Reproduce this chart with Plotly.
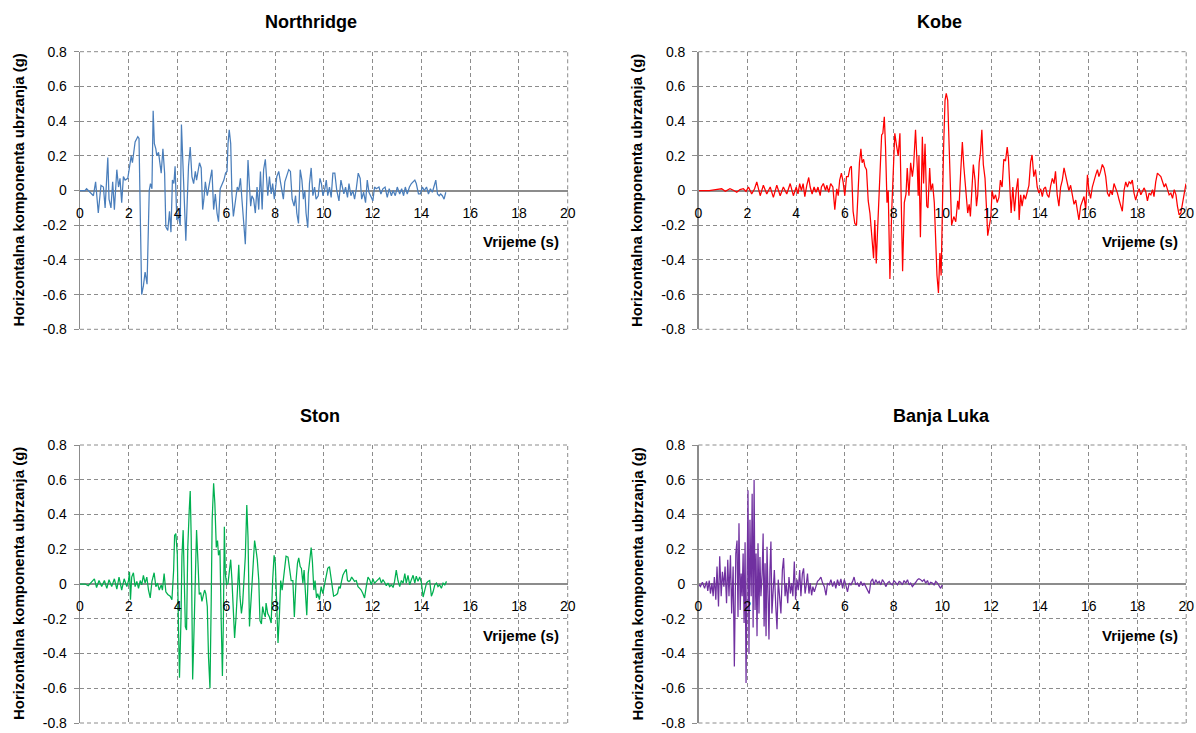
import plotly.graph_objects as go

# ---------------- data ----------------
northridge_t = [0, 0.21, 0.27, 0.41, 0.55, 0.64, 0.75, 0.86, 0.96, 1.03, 1.14, 1.19, 1.27, 1.34, 1.41, 1.51,
                1.58, 1.64, 1.71, 1.78, 1.85, 1.96, 2.03, 2.10, 2.15, 2.21, 2.26, 2.37, 2.42, 2.48, 2.53, 2.60,
                2.67, 2.75, 2.84, 2.89, 2.95, 3.00, 3.05, 3.11, 3.15, 3.22, 3.29, 3.33, 3.40, 3.47, 3.52, 3.60,
                3.67, 3.73, 3.79, 3.85, 3.90, 3.97, 4.04, 4.11, 4.16, 4.22, 4.27, 4.34, 4.40, 4.45, 4.52, 4.59,
                4.66, 4.73, 4.78, 4.84, 4.90, 4.97, 5.03, 5.08, 5.14, 5.22, 5.27, 5.34, 5.41, 5.48, 5.55, 5.62,
                5.68, 5.75, 5.82, 5.90, 5.97, 6.03, 6.07, 6.12, 6.18, 6.23, 6.29, 6.34, 6.40, 6.45, 6.51, 6.58,
                6.64, 6.71, 6.78, 6.84, 6.89, 6.95, 7.00, 7.05, 7.12, 7.19, 7.26, 7.33, 7.40, 7.47, 7.53,
                7.60, 7.70, 7.77, 7.84, 7.90, 7.97, 8.07, 8.15, 8.22, 8.29, 8.34, 8.40, 8.48, 8.56, 8.63, 8.70,
                8.78, 8.84, 8.89, 8.96, 9.03, 9.10, 9.16, 9.22, 9.27, 9.34, 9.41, 9.48, 9.55, 9.62, 9.68, 9.77,
                9.84, 9.90, 9.96, 10.04, 10.10, 10.16, 10.23, 10.30, 10.37, 10.45, 10.53, 10.62, 10.70, 10.75,
                10.82, 10.89, 10.97, 11.03, 11.11, 11.19, 11.26, 11.33, 11.41, 11.49, 11.55, 11.63, 11.71, 11.78,
                11.85, 11.95, 12.01, 12.08, 12.15, 12.26, 12.34, 12.42, 12.51, 12.60, 12.68, 12.77, 12.84, 12.93,
                13.01, 13.11, 13.19, 13.27, 13.34, 13.42, 13.51, 13.59, 13.66, 13.73, 13.79, 13.88, 13.96, 14.04,
                14.12, 14.21, 14.29, 14.37, 14.45, 14.53, 14.59, 14.66, 14.73, 14.79, 14.86, 14.93, 15.00]
northridge_a = [0, 0, 0.01, -0.01, -0.03, 0.05, -0.13, 0.03, 0.02, -0.10, 0.19, -0.05, -0.10, 0.05, -0.11, 0.12,
                0.02, 0.07, -0.07, 0.08, 0.06, 0.07, 0.13, 0.20, 0.16, 0.25, 0.28, 0.31, 0.30, -0.20, -0.60, -0.55,
                -0.47, -0.54, 0.00, 0.04, 0.01, 0.46, 0.27, 0.24, 0.20, 0.22, 0.14, 0.10, 0.24, 0.10, -0.21, -0.23,
                -0.12, -0.24, 0.06, 0.04, 0.14, -0.17, -0.15, -0.20, 0.38, 0.17, -0.11, -0.29, -0.05, 0.14, 0.25, 0.08,
                0.04, 0.11, 0.06, 0.10, 0.16, 0.13, -0.11, -0.05, 0.05, -0.03, 0.01, 0.08, 0.12, -0.11, -0.02, -0.13,
                -0.18, 0.01, 0.03, 0.06, 0.10, 0.11, 0.27, 0.35, 0.27, -0.02, -0.15, -0.09, -0.01, 0.02, 0.00, 0.07,
                -0.05, -0.19, -0.31, -0.05, 0.175, 0.02, -0.09, -0.03, -0.05, -0.13, 0.02, -0.11, 0.11, -0.11, 0.12,
                0.18, -0.03, 0.08, -0.02, 0.04, -0.05, 0.08, 0.11, 0.05, -0.02, -0.05, 0.05, 0.08, 0.12, 0.11, -0.05,
                -0.09, -0.03, -0.13, -0.19, 0.12, 0.06, -0.05, 0.00, -0.13, -0.215, 0.04, 0.13, -0.03, 0.02, -0.05, -0.03,
                0.07, 0.04, -0.03, 0.01, 0.06, -0.03, 0.02, -0.04, 0.10, 0.10, 0.00, -0.06, 0.06, 0.03,
                -0.02, 0.02, -0.04, 0.04, -0.03, 0.00, -0.05, 0.01, 0.10, 0.07, -0.05, -0.01, -0.07, 0.06,
                -0.01, -0.04, -0.06, 0.02, 0.01, 0.02, -0.02, 0.01, 0.02, -0.04, 0.01, -0.03, 0.00, -0.03,
                0.02, -0.02, 0.01, -0.03, 0.02, -0.02, 0.02, 0.04, 0.05, 0.06, 0.04, -0.02, -0.02, 0.02,
                0.00, 0.02, -0.02, 0.01, -0.01, 0.03, 0.06, -0.02, -0.03, -0.02, -0.03, -0.05, -0.01]

kobe_t = [0, 0.44, 0.70, 0.95, 1.10, 1.29, 1.45, 1.57, 1.70, 1.84, 1.95, 2.05, 2.18, 2.30, 2.39, 2.53, 2.66,
          2.80, 2.94, 3.07, 3.21, 3.35, 3.48, 3.62, 3.76, 3.89,
          4.01, 4.08, 4.15, 4.22, 4.29, 4.36, 4.44, 4.52, 4.58, 4.66, 4.74, 4.82, 4.90, 4.99, 5.04, 5.12,
          5.21, 5.26, 5.34, 5.42, 5.51, 5.59, 5.67, 5.73, 5.79, 5.86, 5.93, 6.00, 6.07, 6.14, 6.21, 6.27,
          6.34, 6.41, 6.48, 6.55, 6.60, 6.66, 6.71, 6.77, 6.82, 6.89, 6.96, 7.03, 7.10, 7.14, 7.18, 7.23,
          7.29, 7.34, 7.40, 7.45, 7.51, 7.56, 7.62, 7.67, 7.73, 7.78, 7.85, 7.92, 7.99, 8.05, 8.12, 8.19,
          8.26, 8.30, 8.37, 8.44, 8.51, 8.56, 8.63, 8.70, 8.77, 8.82, 8.90, 8.97, 9.01, 9.04, 9.10, 9.18,
          9.23, 9.29, 9.36, 9.41, 9.48, 9.53, 9.60, 9.67, 9.73, 9.78, 9.84, 9.90, 9.95, 10.00, 10.05, 10.11,
          10.16, 10.22, 10.27, 10.33, 10.38, 10.47, 10.55, 10.63, 10.68, 10.75, 10.82, 10.88, 10.96, 11.04,
          11.10, 11.15, 11.21, 11.27, 11.34, 11.40, 11.45, 11.51, 11.56, 11.62, 11.68, 11.75, 11.82, 11.86,
          11.92, 11.99, 12.04, 12.11, 12.18, 12.25, 12.32, 12.38, 12.45, 12.52, 12.59, 12.66, 12.71, 12.77,
          12.82, 12.89, 12.96, 13.03, 13.10, 13.15, 13.21, 13.27, 13.34, 13.41, 13.48, 13.55, 13.62, 13.68,
          13.75, 13.82, 13.89, 13.96, 14.03, 14.10, 14.16, 14.23, 14.30, 14.37, 14.44, 14.51, 14.58, 14.64,
          14.71, 14.78, 14.85, 14.92, 14.99, 15.05, 15.12, 15.19, 15.26, 15.33, 15.40, 15.47, 15.53, 15.60,
          15.67, 15.74, 15.81, 15.88, 15.95, 16.01, 16.08, 16.15, 16.22, 16.29, 16.36, 16.42, 16.49, 16.56,
          16.63, 16.70, 16.77, 16.84, 16.90, 16.97, 17.04, 17.11, 17.18, 17.25, 17.32, 17.38, 17.45, 17.52,
          17.59, 17.66, 17.73, 17.79, 17.86, 17.93, 18.00, 18.07, 18.14, 18.21, 18.27, 18.34, 18.41, 18.48,
          18.55, 18.62, 18.68, 18.75, 18.82, 18.89, 18.96, 19.03, 19.10, 19.16, 19.23, 19.30, 19.37, 19.44,
          19.51, 19.58, 19.64, 19.71, 19.78, 19.85, 19.92, 19.99]
kobe_a = [0, 0, 0.005, 0.01, -0.005, 0.01, 0.0, -0.01, 0.005, 0.01, -0.005, 0.02, -0.02, 0.01, 0.05, -0.03, 0.03,
          -0.02, 0.02, -0.04, 0.03, -0.03, 0.02, -0.02, 0.04, -0.03,
          0.02, -0.02, 0.04, 0.00, 0.04, -0.035, 0.03, 0.075, 0.02, -0.02, 0.02, -0.01, 0.02, -0.03, 0.02, 0.04,
          0.00, 0.03, -0.01, 0.04, 0.02, -0.11, 0.01, -0.03, 0.06, 0.10, 0.05, -0.03, 0.08, 0.08, 0.13, 0.14,
          -0.12, -0.19, -0.20, 0.00, 0.16, 0.24, 0.16, 0.18, 0.14, 0.12, -0.06, -0.13, -0.27, -0.30, -0.39, -0.17,
          -0.42, -0.24, -0.03, 0.18, 0.32, 0.33, 0.425, 0.25, -0.07, 0.00, -0.51, -0.13, 0.16, 0.33, 0.26, 0.20,
          0.33, 0.06, -0.465, -0.07, -0.02, 0.13, -0.03, 0.16, 0.08, 0.14, 0.35, 0.14, -0.03, 0.20, -0.27, 0.31,
          0.04, 0.27, -0.09, -0.10, 0.13, 0.00, 0.04, -0.07, -0.32, -0.49, -0.59, -0.36, -0.49, -0.03, 0.24, 0.52,
          0.56, 0.52, 0.25, -0.03, -0.20, -0.15, -0.18, -0.06, -0.11, 0.10, 0.28, 0.14, -0.02, -0.13,
          -0.08, -0.15, 0.00, 0.15, 0.06, -0.09, -0.025, 0.16, 0.215, 0.35, 0.15, 0.07, -0.13, -0.26,
          -0.21, -0.15, 0.00, -0.05, -0.025, -0.07, -0.04, 0.06, 0.02, 0.18, 0.17, 0.25, 0.185, -0.025,
          -0.13, 0.02, -0.12, 0.00, 0.07, -0.17, -0.025, -0.09, -0.025, -0.05, -0.01, 0.03, 0.165, 0.205,
          0.08, 0.12, 0.02, -0.015, 0.01, -0.035, 0.01, 0.02, -0.025, -0.04, 0.025, 0.07, 0.04, 0.11,
          -0.025, -0.09, 0.02, 0.06, 0.13, 0.09, 0.04, 0.00, 0.03, -0.025, -0.08, -0.055, -0.11, -0.17,
          -0.09, -0.055, -0.035, -0.11, 0.09, 0.00, -0.045, 0.02, 0.06, 0.09, 0.12, 0.08, 0.11, 0.15,
          0.13, 0.08, -0.015, -0.035, 0.00, -0.025, 0.04, 0.015, -0.015, -0.055, -0.10, -0.12, 0.00, 0.05,
          0.02, 0.05, 0.04, 0.06, -0.015, -0.055, -0.015, 0.01, -0.025, -0.005, 0.015, -0.005, -0.06, -0.015,
          -0.025, 0.005, -0.035, 0.05, 0.10, 0.09, 0.08, 0.05, 0.02, 0.04, 0.005, -0.025, -0.015, -0.045,
          0.005, -0.025, -0.09, -0.14, -0.13, -0.07, -0.025, 0.04]

ston_t = [0, 0.21, 0.34, 0.48, 0.59, 0.68, 0.78, 0.89, 1.00, 1.10, 1.19, 1.30, 1.41, 1.51, 1.60, 1.71, 1.81,
          1.92, 1.99, 2.03, 2.07, 2.12, 2.19, 2.26, 2.33, 2.40, 2.47, 2.53, 2.60, 2.67, 2.74, 2.81, 2.88,
          2.95, 3.04, 3.11, 3.18, 3.25, 3.33, 3.38, 3.45, 3.52, 3.60, 3.70, 3.77, 3.84, 3.88, 3.93, 3.99,
          4.04, 4.08, 4.14, 4.18, 4.23, 4.27, 4.32, 4.37, 4.42, 4.48, 4.52, 4.56, 4.62, 4.67, 4.73, 4.78,
          4.84, 4.89, 4.95, 5.00, 5.05, 5.11, 5.16, 5.22, 5.27, 5.33, 5.38, 5.42, 5.48, 5.53, 5.59, 5.64,
          5.68, 5.74, 5.79, 5.84, 5.88, 5.92, 5.96, 6.01, 6.07, 6.12, 6.18, 6.23, 6.29, 6.34, 6.40, 6.45,
          6.51, 6.56, 6.62, 6.67, 6.73, 6.78, 6.84, 6.89, 6.95, 7.00, 7.05, 7.11, 7.16, 7.22, 7.27, 7.33,
          7.38, 7.44, 7.49, 7.55, 7.60, 7.63, 7.70, 7.77, 7.84, 7.90, 7.96, 8.01, 8.07, 8.12, 8.18, 8.23,
          8.29, 8.34, 8.40, 8.45, 8.53, 8.59, 8.66, 8.73, 8.79, 8.86, 8.92, 8.97, 9.03, 9.08, 9.14, 9.19,
          9.25, 9.30, 9.36, 9.41, 9.48, 9.53, 9.59, 9.64, 9.70, 9.75, 9.82, 9.89, 9.96, 10.04, 10.10, 10.16,
          10.23, 10.29, 10.34, 10.40, 10.48, 10.56, 10.62, 10.67, 10.73, 10.78, 10.85, 10.92, 10.97, 11.03,
          11.08, 11.14, 11.19, 11.26, 11.33, 11.40, 11.47, 11.53, 11.60, 11.67, 11.74, 11.81, 11.88, 11.95,
          12.01, 12.08, 12.15, 12.22, 12.29, 12.36, 12.42, 12.49, 12.56, 12.63, 12.70, 12.77, 12.84, 12.90,
          12.97, 13.04, 13.11, 13.18, 13.25, 13.32, 13.38, 13.45, 13.52, 13.59, 13.66, 13.73, 13.79, 13.86,
          13.93, 14.00, 14.07, 14.14, 14.21, 14.27, 14.34, 14.41, 14.48, 14.55, 14.62, 14.68, 14.75, 14.82,
          14.89, 14.96, 15.03]
ston_a = [0, 0.00, -0.01, 0.01, 0.03, -0.02, 0.02, -0.015, 0.02, -0.025, 0.025, -0.015, 0.03, -0.03, 0.04, -0.035, 0.03,
          -0.015, 0.02, 0.07, -0.09, 0.04, 0.065, -0.015, 0.015, -0.025, 0.02, -0.005, 0.05, 0.005, 0.04, -0.035, -0.08,
          0.015, 0.065, -0.015, 0.005, -0.035, -0.005, -0.035, 0.06, -0.045, -0.06, -0.07, -0.09, 0.08, 0.28, 0.29, 0.17,
          -0.26, -0.54, -0.21, 0.16, 0.31, 0.10, -0.245, -0.265, 0.21, 0.425, 0.535, 0.27, -0.55, -0.30, 0.14, 0.31,
          0.12, -0.06, -0.05, -0.10, -0.07, -0.035, -0.055, -0.13, -0.42, -0.60, -0.11, 0.37, 0.58, 0.465, 0.21, 0.25,
          0.165, 0.195, -0.21, -0.53, -0.21, 0.33, 0.06, -0.005, 0.005, 0.08, 0.14, 0.025, -0.15, -0.31, -0.19, -0.015,
          0.11, -0.07, -0.17, -0.11, 0.025, 0.16, 0.455, 0.27, -0.245, -0.11, 0.025, 0.12, 0.25, 0.195, 0.14, 0.025,
          -0.21, -0.23, -0.13, -0.17, -0.19, -0.11, -0.17, -0.19, -0.225, 0.02, 0.165, 0.12, -0.15, -0.34, -0.17, 0.02,
          -0.035, 0.02, 0.10, 0.16, 0.155, 0.10, 0.02, 0.02, -0.19, 0.02, 0.12, 0.15, 0.10, 0.09, 0.005, 0.08,
          -0.07, -0.18, 0.06, 0.14, 0.21, 0.13, -0.035, 0.02, -0.08, -0.055, -0.09, -0.015, -0.055, 0.005, 0.06, 0.09,
          0.10, 0.04, -0.035, -0.07, -0.065, -0.055, -0.015, -0.025, 0.02, 0.05, 0.07, 0.085, 0.02, 0.015,
          0.02, 0.04, 0.03, 0.015, 0.02, -0.015, -0.025, -0.035, -0.055, -0.08, -0.015, 0.04, 0.025, -0.005,
          0.03, 0.005, 0.015, 0.025, 0.035, 0.005, 0.025, 0.01, -0.01, 0.005, -0.015, -0.005, -0.02, 0.015,
          0.08, 0.02, -0.015, 0.02, 0.005, 0.06, 0.005, 0.05, -0.005, 0.025, 0.05, 0.005, 0.045, 0.015,
          0.04, 0.01, -0.075, -0.035, 0.005, 0.015, 0.02, -0.07, -0.045, -0.005, 0.005, -0.015, -0.005, -0.025,
          0.005, -0.005, 0.015]

banjaluka_t = [0, 0.08, 0.16, 0.25, 0.33, 0.38, 0.44, 0.49, 0.55, 0.60, 0.65, 0.71, 0.76, 0.82, 0.87, 0.93,
               0.98, 1.04, 1.09, 1.15, 1.20, 1.25, 1.31, 1.36, 1.42, 1.47, 1.53, 1.58, 1.62, 1.66, 1.71, 1.75,
               1.79, 1.83, 1.87, 1.91, 1.95, 1.99, 2.03, 2.07, 2.11, 2.16, 2.20, 2.24, 2.28, 2.32, 2.36, 2.40,
               2.44, 2.48, 2.52, 2.56, 2.61, 2.65, 2.69, 2.73, 2.77, 2.81, 2.85, 2.89, 2.93, 2.97, 3.01, 3.06,
               3.11, 3.17, 3.22, 3.27, 3.33, 3.38, 3.44, 3.49, 3.55, 3.60, 3.66, 3.71, 3.77, 3.82, 3.87, 3.93,
               3.98, 4.04, 4.09, 4.15, 4.20, 4.26, 4.31, 4.37, 4.42, 4.47, 4.53, 4.58, 4.64, 4.69, 4.75, 4.82,
               4.88, 4.95, 5.02, 5.09, 5.16, 5.23, 5.29, 5.36, 5.43, 5.50, 5.57, 5.63, 5.70, 5.77, 5.84, 5.91,
               5.98, 6.04, 6.11, 6.18, 6.25, 6.32, 6.38, 6.45, 6.52, 6.59, 6.66, 6.73, 6.79, 6.86, 6.93, 7.00,
               7.07, 7.14, 7.20, 7.27, 7.34, 7.41, 7.48, 7.54, 7.61, 7.68, 7.75, 7.82, 7.89, 7.95, 8.02, 8.09,
               8.16, 8.23, 8.29, 8.36, 8.43, 8.50, 8.57, 8.64, 8.70, 8.77, 8.84, 8.91, 8.98, 9.04, 9.11, 9.18,
               9.25, 9.32, 9.39, 9.45, 9.52, 9.59, 9.66, 9.73, 9.80, 9.86, 9.93, 10.00]
banjaluka_a = [0, -0.015, 0.01, -0.025, 0.015, -0.04, 0.02, -0.055, 0.005, -0.07, 0.04, -0.09, 0.10, -0.13, 0.16, -0.07,
               0.07, -0.015, 0.10, -0.11, 0.14, -0.07, 0.165, -0.17, 0.10, -0.475, 0.175, 0.25, -0.19, 0.35, -0.15, 0.06,
               -0.07, 0.175, -0.225, 0.24, -0.57, 0.08, 0.54, -0.40, 0.37, -0.07, 0.52, -0.25, 0.60, -0.15, 0.175, -0.30,
               0.235, -0.17, 0.155, -0.07, 0.06, 0.29, -0.245, 0.12, -0.30, 0.215, -0.09, -0.32, 0.08, 0.245, -0.17, -0.035,
               0.08, -0.13, -0.26, 0.025, -0.07, -0.17, 0.08, 0.15, -0.07, 0.005, -0.11, 0.04, -0.055, 0.005, -0.07, 0.13,
               -0.09, 0.025, -0.035, 0.08, -0.07, 0.06, 0.09, -0.055, -0.005, 0.06, -0.055, 0.005, -0.065, -0.015, -0.045, -0.005,
               0.015, 0.025, 0.04, 0.005, -0.015, -0.065, 0.005, -0.005, 0.025, -0.015, 0.015, -0.025, 0.025, -0.01, 0.03, -0.025,
               0.025, -0.005, -0.045, 0.005, -0.005, 0.015, 0.04, -0.005, 0.005, -0.015, 0.015, -0.01, 0.005, -0.015, -0.035, -0.055,
               0.015, 0.03, -0.005, 0.025, 0.005, 0.015, -0.005, 0.025, 0.01, -0.015, 0.005, 0.015, 0.00, -0.005, 0.02, 0.005,
               -0.005, 0.015, 0.01, -0.005, 0.02, 0.005, 0.025, -0.005, 0.005, -0.015, -0.005, 0.01, 0.025, 0.03, 0.025, 0.015,
               0.025, 0.005, 0.02, -0.005, 0.01, 0.005, -0.005, 0.015, 0.005, -0.01, -0.025, -0.005]

titles = ["Northridge", "Kobe", "Ston", "Banja Luka"]
colors = ["#4A7EBB", "#FF0000", "#00B050", "#7030A0"]
x_tick_vals = [0, 2, 4, 6, 8, 10, 12, 14, 16, 18, 20]
y_tick_vals = [-0.8, -0.6, -0.4, -0.2, 0, 0.2, 0.4, 0.6, 0.8]
y_tick_text = ["-0.8", "-0.6", "-0.4", "-0.2", "0", "0.2", "0.4", "0.6", "0.8"]
y_title = "Horizontalna komponenta ubrzanja (g)"
x_title = "Vrijeme (s)"

# ---------------- layout geometry (pixels of a 1196 x 733 canvas) ----------------
W, H = 1196, 733


def px(x):
    return x / W


def py(y):
    return 1 - y / H


panels = [
    dict(x0=80.0, x1=567.7, y0=51.7, y1=329.3, t=northridge_t, a=northridge_a),
    dict(x0=698.5, x1=1186.2, y0=51.7, y1=329.3, t=kobe_t, a=kobe_a),
    dict(x0=80.0, x1=567.7, y0=445.0, y1=723.0, t=ston_t, a=ston_a),
    dict(x0=698.5, x1=1186.2, y0=445.0, y1=723.0, t=banjaluka_t, a=banjaluka_a),
]

FONT = "Liberation Sans, Arial, sans-serif"
GRID = "#8C8C8C"
DASH = "4px,3px"

fig = go.Figure()
layout = dict(
    width=W, height=H,
    margin=dict(l=0, r=0, t=0, b=0, autoexpand=False),
    paper_bgcolor="white", plot_bgcolor="white",
    showlegend=False,
    font=dict(family=FONT, size=14, color="#000000"),
    annotations=[], shapes=[],
)

for i, p in enumerate(panels):
    n = "" if i == 0 else str(i + 1)
    fig.add_trace(go.Scatter(
        x=p["t"], y=p["a"], mode="lines",
        line=dict(color=colors[i], width=1.25),
        xaxis="x" + n, yaxis="y" + n, hoverinfo="skip",
    ))
    ydom = [py(p["y1"]), py(p["y0"])]
    zero_pos = (ydom[0] + ydom[1]) / 2
    layout["xaxis" + n] = dict(
        domain=[px(p["x0"]), px(p["x1"])], range=[0, 20],
        anchor="free", position=zero_pos, automargin=False,
        tickvals=x_tick_vals, ticks="", ticklabelstandoff=12,
        showgrid=True, gridcolor=GRID, griddash=DASH, gridwidth=1,
        zeroline=False, showline=False,
        tickfont=dict(family=FONT, size=14, color="#000"),
    )
    layout["yaxis" + n] = dict(
        domain=ydom, range=[-0.8, 0.8],
        anchor="x" + n, automargin=False,
        tickvals=y_tick_vals, ticktext=y_tick_text,
        ticks="outside", ticklen=5, tickcolor=GRID, tickwidth=1,
        ticklabelstandoff=4,
        showline=True, linecolor=GRID, linewidth=1.3,
        showgrid=True, gridcolor=GRID, griddash=DASH, gridwidth=1,
        zeroline=True, zerolinecolor=GRID, zerolinewidth=2,
        tickfont=dict(family=FONT, size=14, color="#000"),
    )
    # dashed frame lines at the range ends (top, bottom, right), as in the reference
    xr = "x%s domain" % n
    yr = "y%s domain" % n
    for (x0, y0, x1, y1) in [(0, 1, 1, 1), (0, 0, 1, 0), (1, 0, 1, 1)]:
        layout["shapes"].append(dict(
            type="line", xref=xr, yref=yr, x0=x0, y0=y0, x1=x1, y1=y1,
            line=dict(color=GRID, width=1, dash=DASH), layer="below",
        ))

# titles
title_pos = [(311, 21.7), (939, 21.7), (320, 416), (941, 416)]
for (x, y), txt in zip(title_pos, titles):
    layout["annotations"].append(dict(
        text="<b>%s</b>" % txt, x=px(x), y=py(y), xref="paper", yref="paper",
        xanchor="center", yanchor="middle", showarrow=False,
        font=dict(family=FONT, size=18, color="#000"),
    ))

# axis titles
for p in panels:
    zero_y = (p["y0"] + p["y1"]) / 2
    layout["annotations"].append(dict(
        text="<b>%s</b>" % y_title, x=px(p["x0"] - 62), y=py(zero_y),
        xref="paper", yref="paper", xanchor="center", yanchor="middle",
        textangle=-90, showarrow=False,
        font=dict(family=FONT, size=15, color="#000"),
    ))
    layout["annotations"].append(dict(
        text="<b>%s</b>" % x_title, x=px(p["x1"] - 6.5), y=py(zero_y + 51),
        xref="paper", yref="paper", xanchor="right", yanchor="middle",
        showarrow=False,
        font=dict(family=FONT, size=15, color="#000"),
    ))

fig.update_layout(**layout)
# the page's default 8px body margin would shift the figure; remove it
fig.write_html("out.html",
               config={"displayModeBar": False, "staticPlot": True},
               post_script="document.body.style.margin='0';document.body.style.overflow='hidden';")
